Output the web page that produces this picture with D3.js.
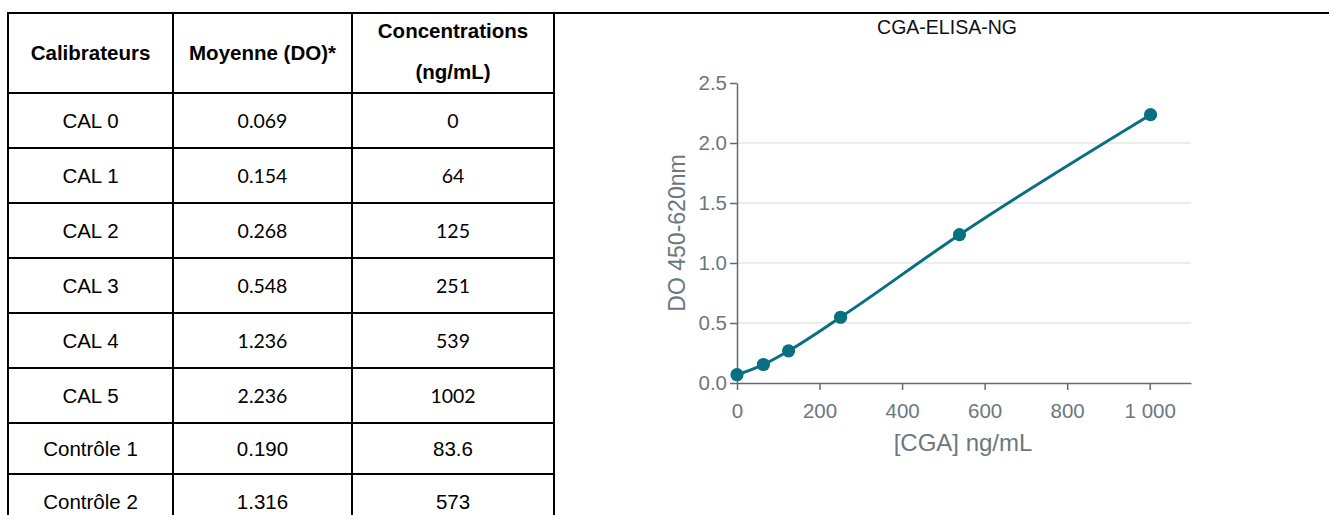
<!DOCTYPE html>
<html>
<head>
<meta charset="utf-8">
<script src="https://cdn.jsdelivr.net/npm/d3@7"></script>
<style>
  html, body { margin: 0; padding: 0; background: #fff; }
  svg { display: block; }
</style>
</head>
<body>
<svg id="fig" width="1329" height="515"></svg>
<script>
// Calibration table and standard curve data
const calibrators = ["CAL 0", "CAL 1", "CAL 2", "CAL 3", "CAL 4", "CAL 5", "Contrôle 1", "Contrôle 2"];
const meanOD = [0.069, 0.154, 0.268, 0.548, 1.236, 2.236, 0.190, 1.316];
const concentrations = [0, 64, 125, 251, 539, 1002, 83.6, 573];
const headerLines = [["Calibrateurs"], ["Moyenne (DO)*"], ["Concentrations", "(ng/mL)"]];
const xTicks = [0, 200, 400, 600, 800, 1000];
const yTicks = [0, 0.5, 1.0, 1.5, 2.0, 2.5];
const gridValues = [0.5, 1.0, 1.5, 2.0];
const chartTitle = "CGA-ELISA-NG";
const xTitle = "[CGA] ng/mL";
const yTitle = "DO 450-620nm";

const svg = d3.select("#fig");
const ink = "#000";
const sans = "Liberation Sans, Arial, sans-serif";

// ---------- table ----------
const colEdges = [8, 173, 352, 554];
const tableTop = 13, headerBottom = 93, rowH = 55;
const rowEdges = [headerBottom];
calibrators.forEach((_, i) => rowEdges.push(headerBottom + rowH * (i + 1) - (i === 6 ? 4 : 0)));

const table = svg.append("g");

// top rule across the page
table.append("line")
  .attr("x1", colEdges[0]).attr("x2", 1329)
  .attr("y1", tableTop).attr("y2", tableTop)
  .attr("stroke", ink).attr("stroke-width", 2);

// vertical rules
table.selectAll("line.v").data(colEdges).join("line")
  .attr("class", "v")
  .attr("x1", d => d).attr("x2", d => d)
  .attr("y1", tableTop - 1).attr("y2", 540)
  .attr("stroke", ink).attr("stroke-width", 2);

// horizontal rules
table.selectAll("line.h").data(rowEdges).join("line")
  .attr("class", "h")
  .attr("x1", colEdges[0] - 1).attr("x2", colEdges[3] + 1)
  .attr("y1", d => d).attr("y2", d => d)
  .attr("stroke", ink).attr("stroke-width", 2);

const colCenter = i => (colEdges[i] + colEdges[i + 1]) / 2;

// header text
headerLines.forEach((lines, c) => {
  const n = lines.length;
  lines.forEach((t, k) => {
    const yc = n === 1 ? (tableTop + headerBottom) / 2 : (k === 0 ? 31 : 72);
    table.append("text")
      .attr("x", colCenter(c)).attr("y", yc)
      .attr("dy", "0.36em")
      .attr("text-anchor", "middle")
      .attr("font-family", sans)
      .attr("font-weight", "bold")
      .attr("font-size", 20.5)
      .attr("fill", ink)
      .text(t);
  });
});

// body rows
const fmtOD = d3.format(".3f");
calibrators.forEach((name, i) => {
  const yc = (rowEdges[i] + (i === 7 ? rowEdges[i] + rowH : rowEdges[i + 1])) / 2;
  const isControl = name.startsWith("Contrôle");
  const numFont = isControl ? sans : "Lato, Carlito, sans-serif";
  const numSize = isControl ? 20.5 : 19.5;
  const cells = [
    { t: name, f: sans, s: 20.5 },
    { t: fmtOD(meanOD[i]), f: numFont, s: numSize },
    { t: String(concentrations[i]), f: numFont, s: numSize }
  ];
  cells.forEach((c, k) => {
    table.append("text")
      .attr("x", colCenter(k)).attr("y", yc)
      .attr("dy", "0.36em")
      .attr("text-anchor", "middle")
      .attr("font-family", c.f)
      .attr("font-size", c.s)
      .attr("fill", ink)
      .text(c.t);
  });
});

// ---------- standard curve ----------
const teal = "#087080";
const axisCol = "#5f6d73";
const labelCol = "#6b787e";

const x = d3.scaleLinear().domain([0, 1100]).range([737, 1191]);
const y = d3.scaleLinear().domain([0, 2.5]).range([383, 83]);

const chart = svg.append("g");

chart.append("text")
  .attr("x", 947).attr("y", 34)
  .attr("text-anchor", "middle")
  .attr("font-family", sans)
  .attr("font-size", 19.5)
  .attr("fill", "#111")
  .text(chartTitle);

// horizontal gridlines
chart.selectAll("line.grid").data(gridValues).join("line")
  .attr("class", "grid")
  .attr("x1", x(0)).attr("x2", x(1100))
  .attr("y1", d => y(d)).attr("y2", d => y(d))
  .attr("stroke", "#d9d9d9").attr("stroke-width", 1);

const locale = d3.formatLocale({ decimal: ".", thousands: " ", grouping: [3], currency: ["", ""] });
const fmtX = locale.format(",");

const xAxis = chart.append("g")
  .attr("transform", `translate(0,${y(0)})`)
  .call(d3.axisBottom(x).tickValues(xTicks).tickFormat(fmtX).tickSize(7).tickPadding(13).tickSizeOuter(0));

const yAxis = chart.append("g")
  .attr("transform", `translate(${x(0)},0)`)
  .call(d3.axisLeft(y).tickValues(yTicks).tickFormat(d3.format(".1f")).tickSize(7).tickPadding(3).tickSizeOuter(0));

[xAxis, yAxis].forEach(g => {
  g.select(".domain").attr("stroke", axisCol).attr("stroke-width", 1.5);
  g.selectAll(".tick line").attr("stroke", axisCol).attr("stroke-width", 1.5);
  g.selectAll(".tick text")
    .attr("fill", labelCol)
    .attr("font-family", sans)
    .attr("font-size", 20.5);
});

chart.append("text")
  .attr("x", (x(0) + x(1100)) / 2 - 1).attr("y", 451)
  .attr("text-anchor", "middle")
  .attr("font-family", sans)
  .attr("font-size", 24)
  .attr("fill", labelCol)
  .text(xTitle);

chart.append("text")
  .attr("transform", `translate(685,${(y(0) + y(2.5)) / 2}) rotate(-90)`)
  .attr("text-anchor", "middle")
  .attr("font-family", sans)
  .attr("font-size", 23)
  .attr("fill", labelCol)
  .text(yTitle);

// fitted calibration curve through the six calibrators
const points = d3.range(6).map(i => ({ c: concentrations[i], od: meanOD[i] }));

chart.append("path")
  .datum(points)
  .attr("fill", "none")
  .attr("stroke", teal)
  .attr("stroke-width", 3)
  .attr("d", d3.line().x(d => x(d.c)).y(d => y(d.od)).curve(d3.curveMonotoneX));

chart.selectAll("circle.pt").data(points).join("circle")
  .attr("class", "pt")
  .attr("cx", d => x(d.c)).attr("cy", d => y(d.od))
  .attr("r", 6.6)
  .attr("fill", teal);
</script>
</body>
</html>
